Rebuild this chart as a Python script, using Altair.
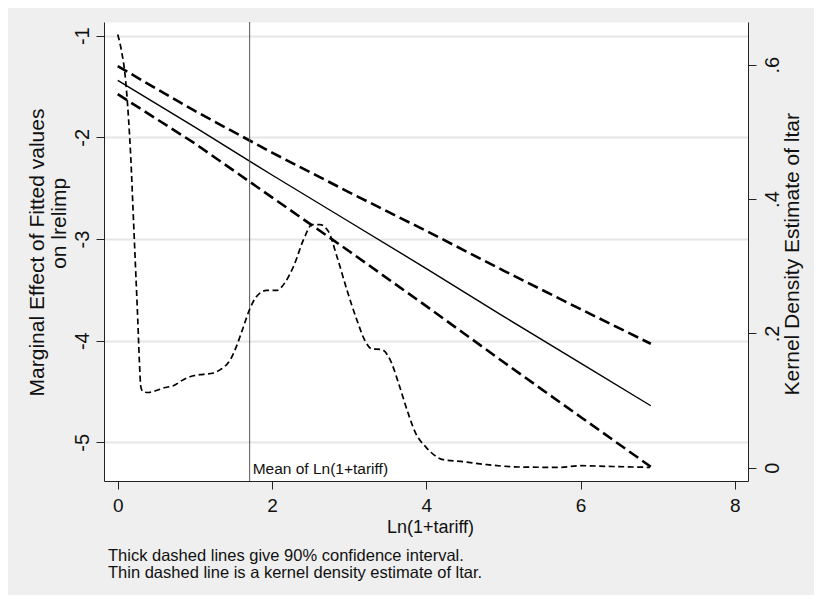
import altair as alt
import pandas as pd

# ---- data ----
x_fit = [0, 1, 2, 3, 4, 5, 6, 6.91]
me_fit = [-1.44, -1.90, -2.37, -2.83, -3.29, -3.76, -4.22, -4.64]
ci_upper = [-1.30, -1.74, -2.15, -2.54, -2.92, -3.31, -3.69, -4.03]
ci_lower = [-1.575, -2.06, -2.59, -3.12, -3.66, -4.21, -4.75, -5.24]

x_dens = [0.0, 0.05, 0.095, 0.14, 0.17, 0.20, 0.23, 0.26, 0.28, 0.30, 0.33, 0.40,
          0.50, 0.60, 0.72, 0.85, 0.98, 1.11, 1.24, 1.33, 1.46, 1.54, 1.63, 1.71,
          1.80, 1.93, 2.06, 2.17, 2.28, 2.41, 2.52, 2.62, 2.73, 2.84, 2.97, 3.10,
          3.21, 3.29, 3.42, 3.53, 3.64, 3.75, 3.86, 4.00, 4.22, 4.48, 4.79, 5.22,
          5.74, 5.99, 6.34, 6.90]
dens = [0.645, 0.620, 0.585, 0.52, 0.46, 0.38, 0.30, 0.22, 0.16, 0.12, 0.113, 0.112,
        0.115, 0.119, 0.122, 0.131, 0.137, 0.139, 0.141, 0.146, 0.161, 0.181, 0.210, 0.236,
        0.255, 0.264, 0.264, 0.276, 0.300, 0.340, 0.362, 0.362, 0.352, 0.315, 0.265, 0.220,
        0.188, 0.177, 0.176, 0.161, 0.126, 0.086, 0.052, 0.030, 0.012, 0.009, 0.0045, 0.001,
        0.0005, 0.003, 0.002, 0.0005]

mean_x = [1.71]
mean_label = ["Mean of Ln(1+tariff)"]

x_ticks = [0, 2, 4, 6, 8]
y_ticks = [-5, -4, -3, -2, -1]
d_ticks = [0, 0.2, 0.4, 0.6]

x_title = "Ln(1+tariff)"
y_title = ["Marginal Effect of Fitted values",
           "\u200b" + "\u00a0" * 10 + "on lrelimp"]
d_title = "Kernel Density Estimate of ltar"
notes = ["Thick dashed lines give 90% confidence interval.",
         "Thin dashed line is a kernel density estimate of ltar."]

fit_df = pd.DataFrame({"x": x_fit, "me": me_fit, "upper": ci_upper, "lower": ci_lower})
dens_df = pd.DataFrame({"x": x_dens, "d": dens})
mean_df = pd.DataFrame({"x": mean_x, "label": mean_label})

AX = "#222222"
TXT = "#111111"
xscale = alt.Scale(domain=[-0.178, 8.17], nice=False, zero=False)
yscale = alt.Scale(domain=[-5.38, -0.865], nice=False, zero=False)
dscale = alt.Scale(domain=[-0.0198, 0.6637], nice=False, zero=False)

x_axis = alt.Axis(values=x_ticks, grid=False, tickSize=8, tickColor=AX, domainColor=AX,
                  labelFontSize=19, labelPadding=7, labelColor=TXT, labelFlush=False,
                  title=x_title, titleFontSize=18, titleFontWeight="normal", titleColor=TXT,
                  titleX=326, titleY=51, titleAlign="center", titleBaseline="alphabetic")

y_axis = alt.Axis(values=y_ticks, grid=True, gridColor="#e6e6e6", gridWidth=2,
                  tickSize=8, tickColor=AX, domainColor=AX,
                  labelExpr="'' + datum.value", labelAngle=270, labelAlign="center",
                  labelBaseline="alphabetic", labelPadding=8, labelFontSize=20,
                  labelColor=TXT, labelFlush=False,
                  title=y_title, titleFontSize=21, titleFontWeight="normal", titleColor=TXT,
                  titleAngle=270, titleX=-60.7, titleY=230, titleAlign="center",
                  titleBaseline="alphabetic", titleLineHeight=22.7)

d_axis = alt.Axis(orient="right", values=d_ticks, grid=False, tickSize=8, tickColor=AX,
                  domainColor=AX,
                  labelExpr="datum.value == 0 ? '0' : replace(format(datum.value, '.1f'), '0.', '.')",
                  labelAngle=270, labelAlign="center", labelBaseline="top", labelPadding=6,
                  labelFontSize=20, labelColor=TXT, labelFlush=False,
                  title=d_title, titleFontSize=21, titleFontWeight="normal", titleColor=TXT,
                  titleAngle=270, titleX=50.3, titleY=231.7, titleAlign="center",
                  titleBaseline="alphabetic")

base = alt.Chart(fit_df)
fit = base.mark_line(color="black", strokeWidth=1.4).encode(
    x=alt.X("x:Q", scale=xscale, axis=x_axis),
    y=alt.Y("me:Q", scale=yscale, axis=y_axis))
upper = base.mark_line(color="black", strokeWidth=2.6, strokeDash=[11, 5]).encode(
    x=alt.X("x:Q", scale=xscale, axis=x_axis),
    y=alt.Y("upper:Q", scale=yscale, axis=y_axis))
lower = base.mark_line(color="black", strokeWidth=2.6, strokeDash=[11, 5]).encode(
    x=alt.X("x:Q", scale=xscale, axis=x_axis),
    y=alt.Y("lower:Q", scale=yscale, axis=y_axis))
rule = alt.Chart(mean_df).mark_rule(color="#555555", strokeWidth=1).encode(
    x=alt.X("x:Q", scale=xscale, axis=x_axis))
label = alt.Chart(mean_df).mark_text(align="left", baseline="alphabetic", dx=3,
                                     fontSize=15.5, color=TXT).encode(
    x=alt.X("x:Q", scale=xscale, axis=x_axis), y=alt.value(451.7), text="label:N")

dens_line = alt.Chart(dens_df).mark_line(color="black", strokeWidth=1.7,
                                         strokeDash=[6, 3.5], interpolate="monotone").encode(
    x=alt.X("x:Q", scale=xscale, axis=x_axis),
    y=alt.Y("d:Q", scale=dscale, axis=d_axis))

left = alt.layer(fit, upper, lower, rule, label)

chart = alt.layer(left, dens_line).resolve_scale(y="independent").properties(
    width=644, height=459,
    autosize=alt.AutoSizeParams(type="none"),
    padding={"left": 96, "top": 14, "right": 66, "bottom": 114},
    title=alt.TitleParams(text=notes, orient="bottom", anchor="start", frame="group",
                          fontSize=16.5, fontWeight="normal", lineHeight=17, color=TXT,
                          offset=12, dx=4),
).configure(font="Liberation Sans", background="#efefef").configure_view(
    stroke="transparent", fill="white")

chart.save("out.html", embed_options={"renderer": "svg", "actions": False})
